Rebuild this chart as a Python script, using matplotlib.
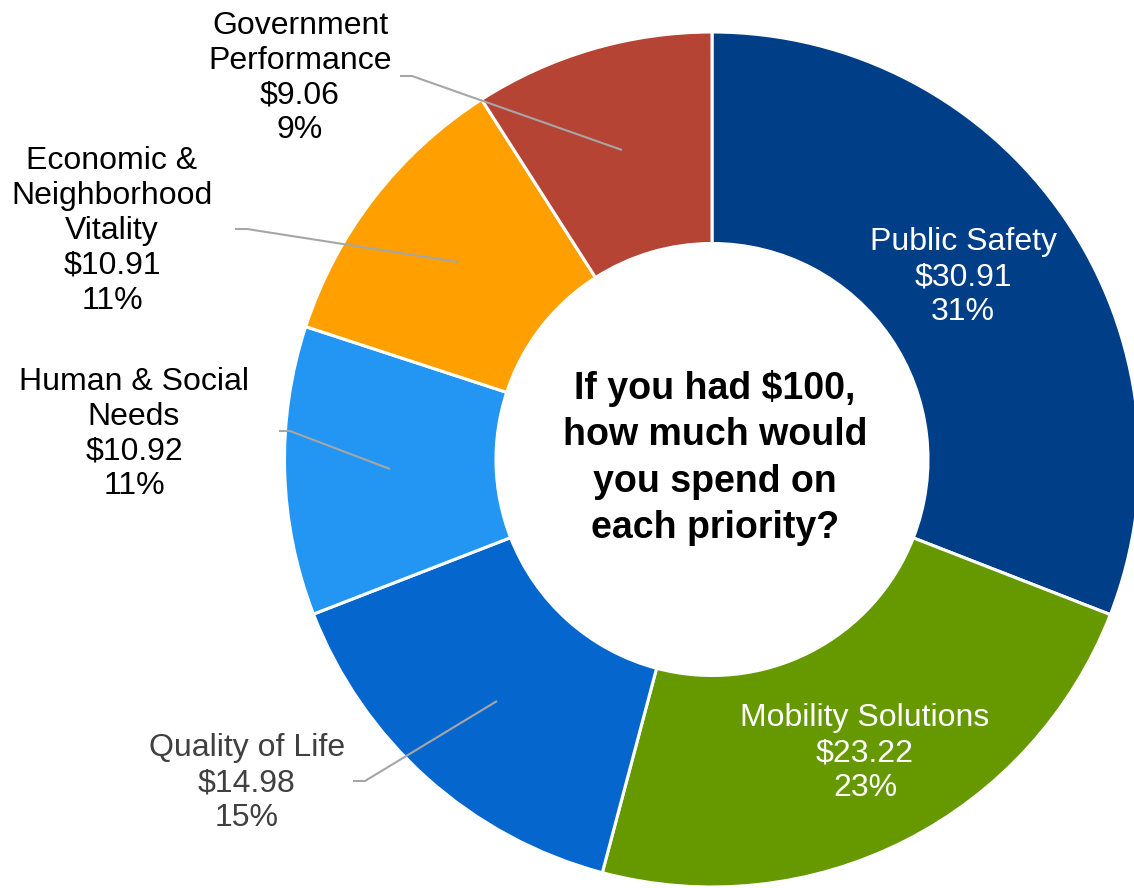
import matplotlib
matplotlib.use("Agg")
import matplotlib.pyplot as plt

# data, clockwise from the top
names = ["Public Safety", "Mobility Solutions", "Quality of Life",
         "Human & Social\nNeeds", "Economic &\nNeighborhood\nVitality",
         "Government\nPerformance"]
dollars = [30.91, 23.22, 14.98, 10.92, 10.91, 9.06]
colors = ["#003F87", "#669900", "#0567CE", "#2396F3", "#FFA000", "#B54435"]

plt.rcParams['font.family'] = ['Liberation Sans', 'DejaVu Sans']

W, H = 1134, 888
fig = plt.figure(figsize=(W / 100, H / 100), dpi=100)
ax = fig.add_axes([0, 0, 1, 1])

def Y(py):
    # picture y (from top) -> data y
    return H - py

cx, cy = 712, 459.5
R, r = 427.5, 216

ax.pie(dollars, colors=colors, center=(cx, Y(cy)), radius=R,
       startangle=90, counterclock=False,
       wedgeprops=dict(width=R - r, edgecolor="white", linewidth=2.2))

# label placement (text centre x, y) and leader lines
label_pos = [(963, 277), (865, 753), (247, 783), (134, 434), (112, 231), (300, 78)]
text_col = ["white", "white", "#404040", "black", "black", "black"]
leaders = {
    2: [(353, 781), (365, 781), (497, 701)],
    3: [(279, 431), (290, 431), (390, 469)],
    4: [(235, 229), (247, 229), (458, 262)],
    5: [(400, 76), (412, 76), (622, 150)],
}

for i, (nm, v) in enumerate(zip(names, dollars)):
    x, y = label_pos[i]
    ax.text(x, Y(y), f"{nm}\n${v:.2f}\n{round(v)}%", ha="center", va="center",
            fontsize=23, color=text_col[i], linespacing=1.21)
    if i in leaders:
        pts = leaders[i]
        ax.plot([p[0] for p in pts], [Y(p[1]) for p in pts],
                color="#A6A6A6", lw=1.5, solid_capstyle="butt")

ax.text(715, Y(458), "If you had $100,\nhow much would\nyou spend on\neach priority?",
        ha="center", va="center", fontsize=27, fontweight="bold", linespacing=1.36)

ax.set_xlim(0, W)
ax.set_ylim(0, H)
ax.set_aspect("equal")
ax.axis("off")

fig.savefig("out.png", dpi=100)
